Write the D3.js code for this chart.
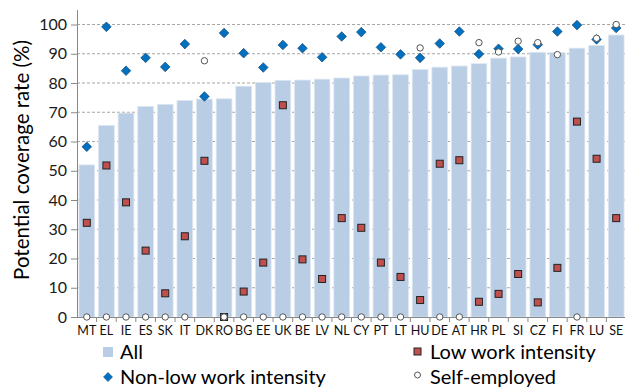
<!DOCTYPE html>
<html><head><meta charset="utf-8">
<script src="https://cdn.jsdelivr.net/npm/d3@7"></script>
<style>body{margin:0;background:#fff}svg{display:block;font-family:Lato,"Open Sans",sans-serif}</style>
</head><body><svg id="c" width="625" height="389"></svg>
<script>
const countries = ["MT","EL","IE","ES","SK","IT","DK","RO","BG","EE","UK","BE","LV","NL","CY","PT","LT","HU","DE","AT","HR","PL","SI","CZ","FI","FR","LU","SE"];
const allRate = [52,65.5,69.7,72,72.7,74,74.5,74.6,78.9,80.2,80.9,81,81.3,81.7,82.4,82.7,82.8,84.6,85.4,85.8,86.6,88.5,88.9,90.5,90.4,91.9,92.8,96.4];
const nonLow = [58.2,99.2,84.2,88.6,85.5,93.3,75.4,97.1,90.2,85.3,93,91.9,88.8,95.9,97.4,92.2,89.8,88.6,93.5,97.6,89.9,91.7,91.6,93.1,97.6,99.8,94.9,98.8];
const lowWI = [32.2,51.8,39.2,22.7,8.1,27.6,53.4,0,8.7,18.6,72.4,19.7,13,33.8,30.5,18.6,13.7,5.8,52.4,53.6,5.2,7.9,14.7,5,16.8,66.8,54.1,33.8];
const selfEmp = [0,0,0,0,0,0,87.6,0,0,0,0,0,0,0,0,0,0,92,0,0,93.8,90.6,94.3,93.8,89.7,0,95.3,100];
const yTicks = [0,10,20,30,40,50,60,70,80,90,100];
const legendLabels = ["All","Low work intensity","Non-low work intensity","Self-employed"];

const svg = d3.select("#c");
const L = 77, R = 626, T = 10, B = 317;
const x = d3.scaleBand().domain(countries).range([L, R]).paddingInner(0.2).paddingOuter(0.1);
const y = d3.scaleLinear().domain([0,100]).range([B, 24.5]);

// gridlines
svg.append("g").selectAll("line").data(yTicks.filter(d=>d>0)).join("line")
  .attr("x1", L).attr("x2", R).attr("y1", d=>y(d)).attr("y2", d=>y(d))
  .attr("stroke","#a6a6a6").attr("stroke-width",1).attr("stroke-dasharray","3,2");

// bars
svg.append("g").selectAll("rect").data(countries).join("rect")
  .attr("x", d=>x(d)).attr("width", x.bandwidth())
  .attr("y", (d,i)=>y(allRate[i])).attr("height",(d,i)=>B - y(allRate[i]))
  .attr("fill","#b9cde5").attr("stroke","#dce6f2").attr("stroke-width",0.8);

// y axis
const yAxis = svg.append("g").attr("transform",`translate(${L},0)`)
  .call(d3.axisLeft(y).tickValues(yTicks).tickSize(6).tickPadding(4));
yAxis.select(".domain").remove();
yAxis.selectAll(".tick line").attr("stroke","#888");
yAxis.selectAll("text").attr("font-size",16).attr("fill","#1a1a1a").attr("font-family","Lato");
svg.append("line").attr("x1",L+0.5).attr("x2",L+0.5).attr("y1",T).attr("y2",B).attr("stroke","#888");

// x axis
svg.append("line").attr("x1",L).attr("x2",R).attr("y1",B+0.5).attr("y2",B+0.5).attr("stroke","#888");
const step = x.step();
svg.append("g").selectAll("line").data(countries).join("line")
  .attr("x1",(d)=>x(d)+x.bandwidth()/2+step/2).attr("x2",(d)=>x(d)+x.bandwidth()/2+step/2)
  .attr("y1",B).attr("y2",B+5).attr("stroke","#888");
svg.append("g").selectAll("text").data(countries).join("text")
  .attr("x", d=>x(d)+x.bandwidth()/2).attr("y", B+18)
  .attr("text-anchor","middle").attr("font-size",12.5).attr("fill","#111").text(d=>d);

const cx = d=>x(d)+x.bandwidth()/2;
// diamonds
svg.append("g").selectAll("path").data(countries).join("path")
  .attr("d", d3.symbol(d3.symbolSquare, 46))
  .attr("transform",(d,i)=>`translate(${cx(d)},${y(nonLow[i])}) rotate(45)`)
  .attr("fill","#0070c0").attr("stroke","#1f4e79").attr("stroke-width",0.7);
// squares
svg.append("g").selectAll("rect").data(countries).join("rect")
  .attr("x",(d)=>cx(d)-3.5).attr("y",(d,i)=>y(lowWI[i])-3.5).attr("width",7).attr("height",7)
  .attr("fill","#c0504d").attr("stroke","#222").attr("stroke-width",1);
// circles
svg.append("g").selectAll("circle").data(countries).join("circle")
  .attr("cx",cx).attr("cy",(d,i)=>y(selfEmp[i])).attr("r",3.2)
  .attr("fill","#fff").attr("stroke","#555").attr("stroke-width",1);

// y title
svg.append("text").attr("transform","translate(29,160) rotate(-90)")
  .attr("text-anchor","middle").attr("font-size",20.5).attr("fill","#000")
  .text("Potential coverage rate (%)");

// legend
const lg = svg.append("g").attr("font-size",20).attr("fill","#000");
lg.append("rect").attr("x",103).attr("y",347).attr("width",10).attr("height",10).attr("fill","#b9cde5");
lg.append("text").attr("x",120).attr("y",359).text(legendLabels[0]);
lg.append("path").attr("d",d3.symbol(d3.symbolSquare,40)()).attr("transform","translate(108,377) rotate(45)").attr("fill","#0070c0").attr("stroke","#1f4e79").attr("stroke-width",0.6);
lg.append("text").attr("x",120).attr("y",384).text(legendLabels[2]);
lg.append("rect").attr("x",414).attr("y",348).attr("width",7).attr("height",7).attr("fill","#c0504d").attr("stroke","#222");
lg.append("text").attr("x",430).attr("y",359).text(legendLabels[1]);
lg.append("circle").attr("cx",417.5).attr("cy",375).attr("r",3).attr("fill","#fff").attr("stroke","#555");
lg.append("text").attr("x",430).attr("y",384).text(legendLabels[3]);
</script></body></html>
